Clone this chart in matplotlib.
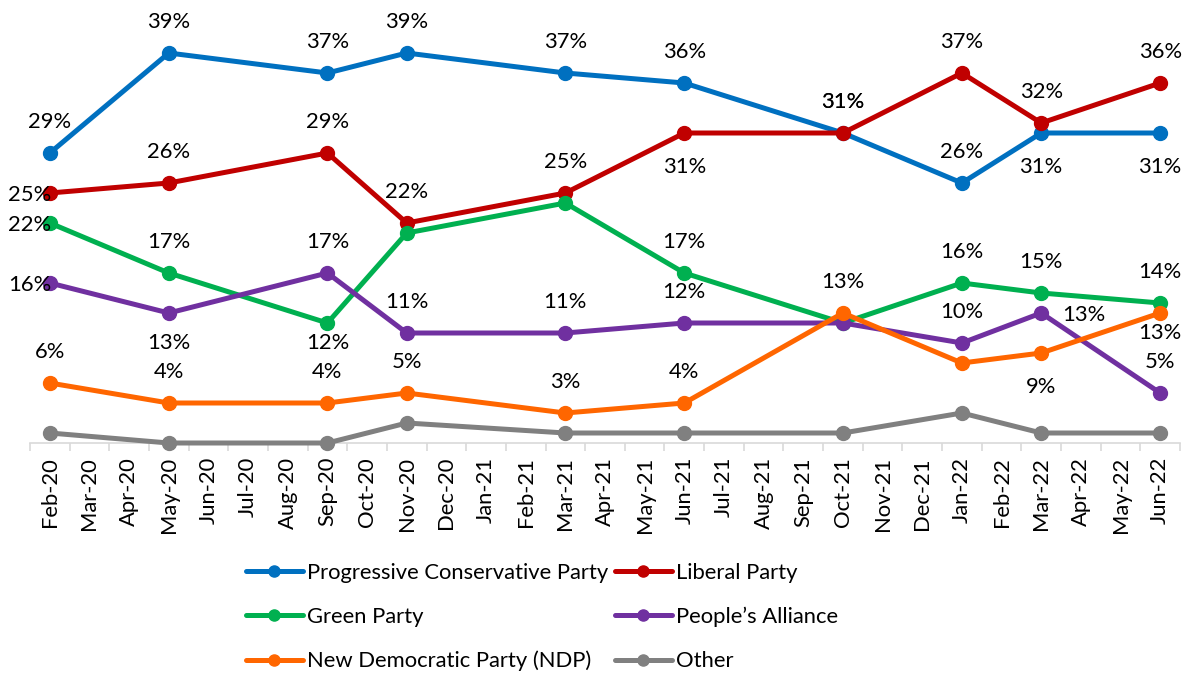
import matplotlib
matplotlib.use("Agg")
import matplotlib.pyplot as plt
from matplotlib.ticker import FixedLocator

plt.rcParams['font.family'] = ['Lato', 'DejaVu Sans']

# ---- data ----
months = ["Feb-20", "Mar-20", "Apr-20", "May-20", "Jun-20", "Jul-20", "Aug-20", "Sep-20",
          "Oct-20", "Nov-20", "Dec-20", "Jan-21", "Feb-21", "Mar-21", "Apr-21", "May-21",
          "Jun-21", "Jul-21", "Aug-21", "Sep-21", "Oct-21", "Nov-21", "Dec-21", "Jan-22",
          "Feb-22", "Mar-22", "Apr-22", "May-22", "Jun-22"]
survey_months = ["Feb-20", "May-20", "Sep-20", "Nov-20", "Mar-21", "Jun-21",
                 "Oct-21", "Jan-22", "Mar-22", "Jun-22"]

series_names = ["Progressive Conservative Party", "Liberal Party", "Green Party",
                "People\u2019s Alliance", "New Democratic Party (NDP)", "Other"]
pc      = [29, 39, 37, 39, 37, 36, 31, 26, 31, 31]
liberal = [25, 26, 29, 22, 25, 31, 31, 37, 32, 36]
green   = [22, 17, 12, 21, 24, 17, 12, 16, 15, 14]
pa      = [16, 13, 17, 11, 11, 12, 12, 10, 13, 5]
ndp     = [6, 4, 4, 5, 3, 4, 13, 8, 9, 13]
other   = [1, 0, 0, 2, 1, 1, 1, 3, 1, 1]
values = [pc, liberal, green, pa, ndp, other]

# ---- styling ----
colors = ["#0070C0", "#C00000", "#00B050", "#7030A0", "#FF6600", "#808080"]
# label placement: a=above, b=below (b2/b3 closer), l=left, r=right, n=none
label_pos = [
    ["a", "a", "a", "a", "a", "a", "a", "a", "b", "b"],
    ["l", "a", "a", "a", "a", "b", "a", "a", "a", "a"],
    ["l", "a", "b2", "n", "n", "a", "n", "a", "a", "a"],
    ["l", "b3", "a", "a", "a", "a", "n", "a", "r", "a"],
    ["a", "a", "a", "a", "a", "a", "a", "n", "b", "b2"],
    ["n"] * 10,
]
offsets = {"a": (0, 31), "b": (0, -34), "b2": (0, -20), "b3": (0, -30),
           "l": (-20, -2), "r": (43, -2)}

W, H = 1185, 675
fig = plt.figure(figsize=(W / 100, H / 100), dpi=100)
ax = fig.add_axes([30 / W, (H - 443) / H, 1150 / W, 420 / H])

xpos = [months.index(m) for m in survey_months]
FS = 15.8

for vals, col, name in zip(values, colors, series_names):
    ax.plot(xpos, vals, color=col, lw=3.6, marker="o", ms=10, label=name,
            solid_capstyle="round", clip_on=False, zorder=3)

for vals, poss in zip(values, label_pos):
    for x, v, p in zip(xpos, vals, poss):
        if p == "n":
            continue
        dx, dy = offsets[p]
        ax.annotate(f"{v}%", (x, v), xytext=(dx, dy), textcoords="offset pixels",
                    ha="center", va="center", fontsize=FS, color="black",
                    zorder=5, annotation_clip=False)

ax.set_xlim(-0.5, len(months) - 0.5)
ax.set_ylim(0, 42)
for s in ["top", "right", "left"]:
    ax.spines[s].set_visible(False)
ax.spines["bottom"].set_color("#D9D9D9")
ax.spines["bottom"].set_linewidth(1.2)
ax.set_yticks([])
ax.set_xticks(range(len(months)))
ax.set_xticklabels(months, rotation=90, fontsize=FS, color="black")
ax.tick_params(axis="x", which="major", length=0, pad=10)
ax.xaxis.set_minor_locator(FixedLocator([i - 0.5 for i in range(len(months) + 1)]))
ax.tick_params(axis="x", which="minor", length=6, color="#D9D9D9", width=1.2)

handles, labels = ax.get_legend_handles_labels()
order = [0, 2, 4, 1, 3, 5]
leg = fig.legend([handles[i] for i in order], [labels[i] for i in order],
                 ncol=2, loc="center", bbox_to_anchor=(542 / W, 1 - 617 / H),
                 frameon=False, fontsize=FS, handlelength=2.6, handletextpad=0.2,
                 columnspacing=0.3, labelspacing=1.1, markerscale=0.8)

fig.savefig("out.png", dpi=100)
